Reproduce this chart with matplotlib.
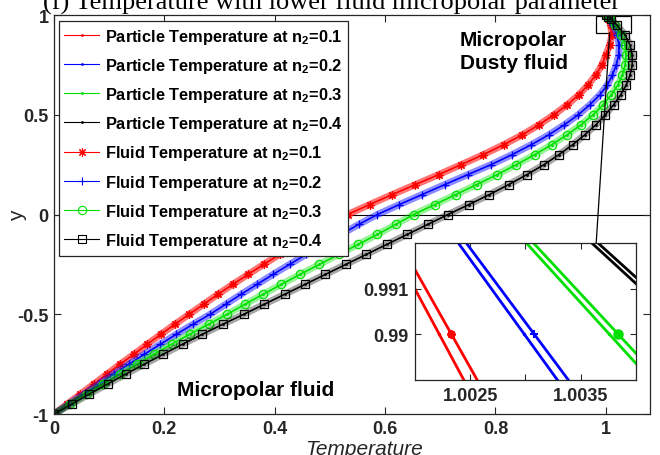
import matplotlib
matplotlib.use('Agg')
import matplotlib.pyplot as plt
from matplotlib.patches import Rectangle, ConnectionPatch
from matplotlib.lines import Line2D

plt.rcParams['font.family'] = ['Liberation Sans', 'DejaVu Sans']
plt.rcParams['font.weight'] = 'bold'
plt.rcParams['mathtext.fontset'] = 'custom'
plt.rcParams['mathtext.rm'] = 'Liberation Sans:bold'
plt.rcParams['mathtext.bf'] = 'Liberation Sans:bold'

# channel position y and temperatures for n2 = 0.1 ... 0.4
y_pos = [-1.00, -0.95, -0.90, -0.85, -0.80, -0.75, -0.70, -0.65, -0.60, -0.55,
         -0.50, -0.45, -0.40, -0.35, -0.30, -0.25, -0.20, -0.15, -0.10, -0.05,
         0.00, 0.05, 0.10, 0.15, 0.20, 0.25, 0.30, 0.35, 0.40, 0.45,
         0.50, 0.55, 0.60, 0.65, 0.70, 0.75, 0.80, 0.85, 0.90, 0.95,
         0.98, 0.99, 1.00]

fluid_n01 = [0.000, 0.024, 0.048, 0.072, 0.096, 0.120, 0.145, 0.169, 0.194, 0.219,
             0.245, 0.271, 0.297, 0.324, 0.352, 0.380, 0.409, 0.439, 0.469, 0.500,
             0.532, 0.572, 0.613, 0.655, 0.697, 0.738, 0.778, 0.815, 0.849, 0.879,
             0.906, 0.930, 0.951, 0.968, 0.982, 0.993, 1.000, 1.007, 1.011, 1.0086,
             1.00466, 1.00233, 1.000]
fluid_n02 = [0.000, 0.027, 0.054, 0.081, 0.108, 0.136, 0.164, 0.193, 0.222, 0.252,
             0.283, 0.311, 0.339, 0.368, 0.397, 0.427, 0.457, 0.488, 0.520, 0.552,
             0.586, 0.626, 0.667, 0.708, 0.750, 0.792, 0.830, 0.865, 0.897, 0.925,
             0.950, 0.971, 0.989, 1.003, 1.012, 1.019, 1.0235, 1.024, 1.021, 1.013,
             1.00616, 1.00308, 1.000]
fluid_n03 = [0.000, 0.029, 0.059, 0.089, 0.119, 0.150, 0.181, 0.213, 0.246, 0.280,
             0.314, 0.346, 0.379, 0.412, 0.446, 0.481, 0.516, 0.551, 0.586, 0.619,
             0.652, 0.690, 0.728, 0.766, 0.803, 0.838, 0.871, 0.902, 0.930, 0.955,
             0.977, 0.995, 1.010, 1.022, 1.030, 1.035, 1.037, 1.035, 1.028, 1.0167,
             1.00768, 1.00384, 1.000]
fluid_n04 = [0.000, 0.032, 0.064, 0.097, 0.130, 0.164, 0.198, 0.233, 0.269, 0.306,
             0.344, 0.381, 0.418, 0.455, 0.492, 0.529, 0.566, 0.603, 0.640, 0.677,
             0.714, 0.752, 0.789, 0.824, 0.857, 0.888, 0.915, 0.940, 0.962, 0.982,
             0.999, 1.014, 1.027, 1.037, 1.044, 1.048, 1.048, 1.044, 1.035, 1.020,
             1.00914, 1.00457, 1.000]

part_n01 = [0.000, 0.024, 0.048, 0.072, 0.096, 0.120, 0.145, 0.169, 0.194, 0.219,
            0.245, 0.271, 0.297, 0.324, 0.352, 0.380, 0.409, 0.439, 0.469, 0.500,
            0.532, 0.572, 0.613, 0.655, 0.697, 0.738, 0.778, 0.815, 0.849, 0.879,
            0.906, 0.930, 0.951, 0.968, 0.982, 0.993, 1.000, 1.0065, 1.010, 1.0080,
            1.00444, 1.00222, 1.000]
part_n02 = [0.000, 0.027, 0.054, 0.081, 0.108, 0.136, 0.164, 0.193, 0.222, 0.252,
            0.283, 0.311, 0.339, 0.368, 0.397, 0.427, 0.457, 0.488, 0.520, 0.552,
            0.586, 0.626, 0.667, 0.708, 0.750, 0.792, 0.830, 0.865, 0.897, 0.925,
            0.950, 0.971, 0.989, 1.003, 1.012, 1.019, 1.0230, 1.0234, 1.0201, 1.0125,
            1.00598, 1.00299, 1.000]
part_n03 = [0.000, 0.029, 0.059, 0.089, 0.119, 0.150, 0.181, 0.213, 0.246, 0.280,
            0.314, 0.346, 0.379, 0.412, 0.446, 0.481, 0.516, 0.551, 0.586, 0.619,
            0.652, 0.690, 0.728, 0.766, 0.803, 0.838, 0.871, 0.902, 0.930, 0.955,
            0.977, 0.995, 1.010, 1.022, 1.030, 1.035, 1.0365, 1.0345, 1.0272, 1.0163,
            1.00752, 1.00376, 1.000]
part_n04 = [0.000, 0.032, 0.064, 0.097, 0.130, 0.164, 0.198, 0.233, 0.269, 0.306,
            0.344, 0.381, 0.418, 0.455, 0.492, 0.529, 0.566, 0.603, 0.640, 0.677,
            0.714, 0.752, 0.789, 0.824, 0.857, 0.888, 0.915, 0.940, 0.962, 0.982,
            0.999, 1.014, 1.027, 1.037, 1.044, 1.048, 1.0476, 1.0436, 1.0345, 1.0197,
            1.00900, 1.00450, 1.000]

n2_values = ['0.1', '0.2', '0.3', '0.4']
colors = ['#ff0000', '#0000ff', '#00e000', '#000000']
band_alpha = [0.55, 0.45, 0.4, 0.35]
fluid_markers = [(8, 2, 0), '+', 'o', 's']
particle = [part_n01, part_n02, part_n03, part_n04]
fluid = [fluid_n01, fluid_n02, fluid_n03, fluid_n04]

fig = plt.figure(figsize=(6.6, 4.56), dpi=100)
ax = fig.add_axes([0.0818, 0.0899, 0.903, 0.875])

handles = []
for T, c, n in zip(particle, colors, n2_values):
    ax.plot(T, y_pos, color=c, lw=0.9, marker='.', ms=2)
    handles.append(Line2D([], [], color=c, lw=0.8, marker='.', ms=2,
                          label='Particle Temperature at n$_{2}$=' + n))
for T, c, m, a, n in zip(fluid, colors, fluid_markers, band_alpha, n2_values):
    # dense marker band
    ax.plot(T, y_pos, color=c, lw=5, alpha=a, solid_capstyle='butt')
    ax.plot(T, y_pos, color=c, lw=0.9, marker=m, ms=6, mfc='none', mew=0.9)
    handles.append(Line2D([], [], color=c, lw=0.8, marker=m, ms=6, mfc='none',
                          mew=0.8, label='Fluid Temperature at n$_{2}$=' + n))

ax.axhline(0, color='k', lw=0.8, zorder=0)

ax.set_xlim(0, 1.08)
ax.set_ylim(-1, 1)
ax.set_xticks([0, 0.2, 0.4, 0.6, 0.8, 1])
ax.set_xticklabels(['0', '0.2', '0.4', '0.6', '0.8', '1'])
ax.set_yticks([-1, -0.5, 0, 0.5, 1])
ax.set_yticklabels(['-1', '-0.5', '0', '0.5', '1'])
ax.tick_params(direction='in', top=True, right=True, length=5, width=0.8,
               labelsize=13, colors='#262626', pad=4)
for s in ax.spines.values():
    s.set_color('#262626')
    s.set_linewidth(0.9)

ax.set_xlabel('Temperature', fontsize=15, fontstyle='italic', color='#262626')
ax.xaxis.set_label_coords(0.52, -0.063)
ax.set_ylabel('y', fontsize=15, color='#262626')
ax.yaxis.set_label_coords(-0.045, 0.5)

leg = ax.legend(handles=handles, loc='upper left', bbox_to_anchor=(0.008, 0.985),
                borderaxespad=0, fontsize=11.8, fancybox=False, edgecolor='#262626',
                framealpha=1, handlelength=2.1, labelspacing=0.62, handletextpad=0.35,
                borderpad=0.35)
leg.get_frame().set_linewidth(0.9)

ax.text(0.735, 0.925, 'Micropolar\nDusty fluid', fontsize=15, va='top', ha='left',
        linespacing=1.25)
ax.text(0.223, -0.877, 'Micropolar fluid', fontsize=15, ha='left', va='center')

title = '(f) Temperature with lower fluid micropolar parameter'
fig.text(0.502, 1 - 10 / 456, title, family='Liberation Serif', fontweight='normal',
         fontsize=19, ha='center', va='baseline')

# zoomed view near the upper wall
axin = fig.add_axes([0.6288, 0.1645, 0.3348, 0.3004])
for T, c in zip(particle, colors):
    axin.plot(T, y_pos, color=c, lw=2, marker='.', ms=3)
for T, c, m in zip(fluid, colors, fluid_markers):
    axin.plot(T, y_pos, color=c, lw=2, marker=m, ms=6, mfc=c, mew=1.5)
axin.set_xlim(1.0020, 1.0040)
axin.set_ylim(0.989, 0.992)
axin.set_xticks([1.0025, 1.003, 1.0035])
axin.set_xticklabels(['1.0025', '', '1.0035'])
axin.set_yticks([0.99, 0.991])
axin.set_yticklabels(['0.99', '0.991'])
axin.tick_params(direction='in', top=True, right=True, length=4, width=0.8,
                 labelsize=13, colors='#262626', pad=5)
for s in axin.spines.values():
    s.set_color('#262626')
    s.set_linewidth(0.9)

ax.add_patch(Rectangle((0.982, 0.911), 0.063, 0.084, fill=False, ec='k', lw=0.9))
con = ConnectionPatch(xyA=(1.007, 0.911), coordsA=ax.transData,
                      xyB=(0.82, 1.0), coordsB=axin.transAxes, color='k', lw=0.9)
fig.add_artist(con)

fig.savefig('out.png', dpi=100)
